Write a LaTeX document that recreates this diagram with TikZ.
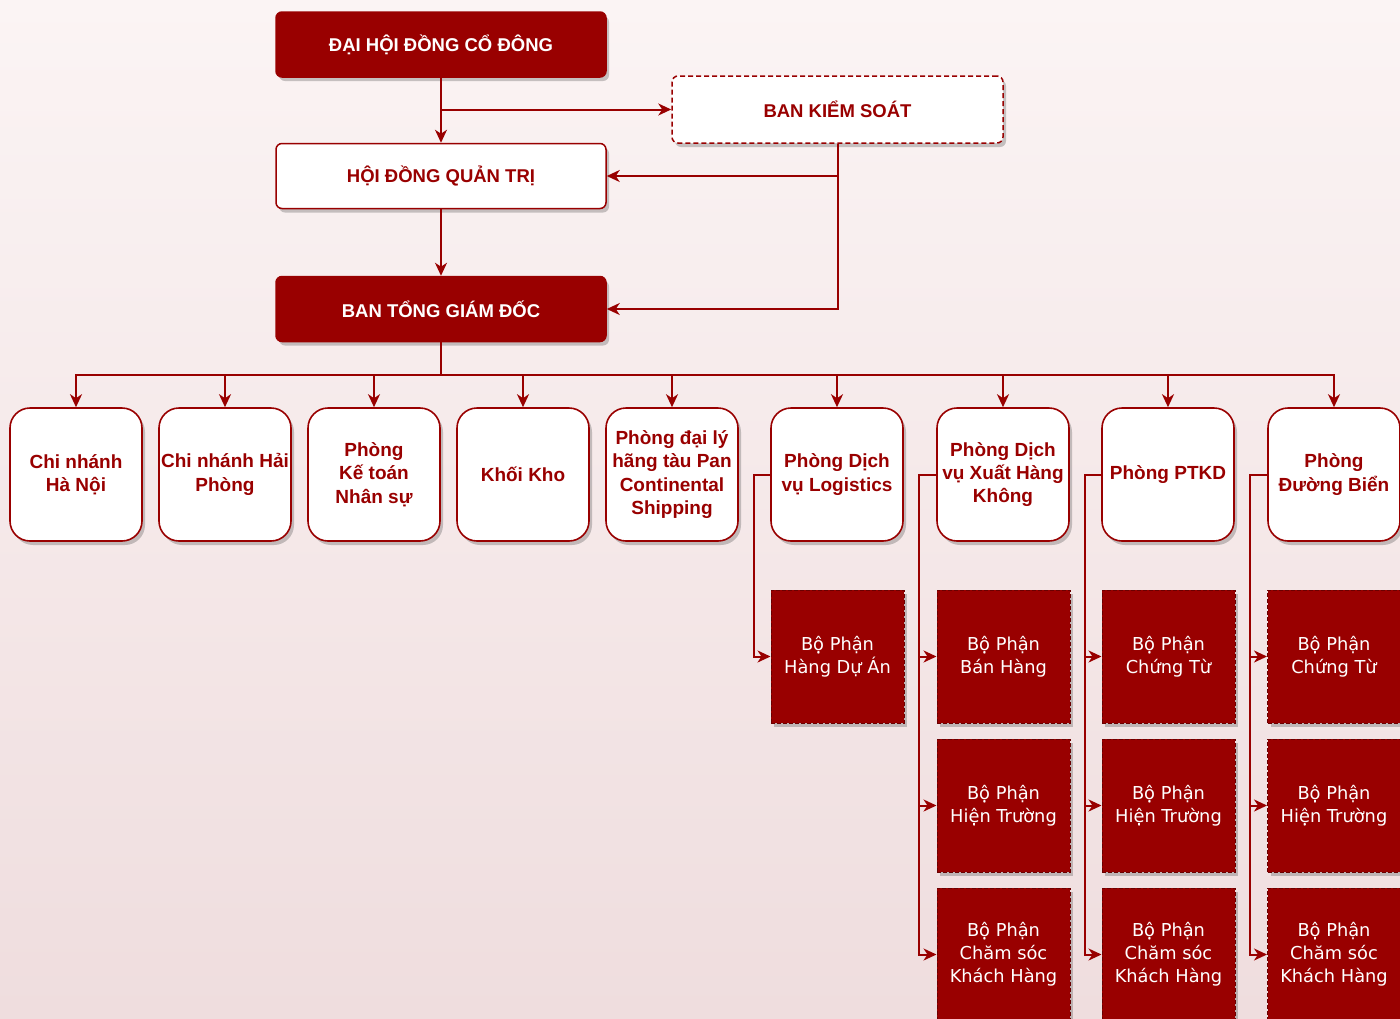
\documentclass[tikz,border=0pt]{standalone}
\usepackage{fontspec}
\setmainfont{Liberation Sans}
\newfontfamily\subfont{DejaVu Sans}
\usetikzlibrary{arrows.meta,shadows,calc}
\definecolor{dred}{HTML}{990000}
\definecolor{bgA}{HTML}{FBF4F4}
\definecolor{bgB}{HTML}{EFDDDE}
\definecolor{dashred}{HTML}{6A0000}
\begin{document}
\begin{tikzpicture}[x=1pt,y=-1pt,
  conn/.style={draw=dred,line width=2pt,-{Stealth[length=13pt,width=12pt,inset=4pt]}},
  shad/.style={drop shadow={shadow xshift=3pt,shadow yshift=-4pt,opacity=0.3,fill=black!70}},
  topbox/.style={rectangle,rounded corners=6pt,minimum width=330pt,minimum height=65pt,
    line width=1.5pt,font=\bfseries\fontsize{18.5}{22}\selectfont,shad},
  darktop/.style={topbox,fill=dred,draw=dred,text=white},
  lighttop/.style={topbox,fill=white,draw=dred,text=dred},
  dept/.style={rectangle,rounded corners=20pt,minimum width=132pt,minimum height=133pt,
    fill=white,draw=dred,line width=1.6pt,text=dred,align=center,inner sep=1pt,
    font=\bfseries\fontsize{19}{23.3}\selectfont,shad},
  subbox/.style={rectangle,minimum width=133pt,minimum height=133pt,fill=dred,draw=dashred,
    line width=1pt,dash pattern=on 4pt off 2pt,text=white,align=center,inner sep=1pt,
    font=\subfont\fontsize{17.8}{23}\selectfont,shad}
]
\useasboundingbox (0,0) rectangle (1400,1018);
\shade[top color=bgA,bottom color=bgB] (0,0) rectangle (1400,1018);

% top level
\node[darktop] (dhd) at (441,44.5) {ĐẠI HỘI ĐỒNG CỔ ĐÔNG};
\node[lighttop,dash pattern=on 5pt off 3pt,minimum width=331pt,minimum height=67pt] (bks) at (837.5,109.5) {BAN KIỂM SOÁT};
\node[lighttop] (hdqt) at (441,176) {HỘI ĐỒNG QUẢN TRỊ};
\node[darktop] (btgd) at (441,309) {BAN TỔNG GIÁM ĐỐC};

\draw[conn] (dhd.south) -- (hdqt.north);
\draw[conn] (dhd.south |- bks.west) -- (bks.west);
\draw[conn] (bks.south) |- (hdqt.east);
\draw[conn] (bks.south) |- (btgd.east);
\draw[conn] (hdqt.south) -- (btgd.north);

% departments
\node[dept] (d1) at (76,474.5) {Chi nhánh\\Hà Nội};
\node[dept] (d2) at (225,474.5) {Chi nhánh Hải\\Phòng};
\node[dept] (d3) at (374,474.5) {Phòng\\Kế toán\\Nhân sự};
\node[dept] (d4) at (523,474.5) {Khối Kho};
\node[dept] (d5) at (672,474.5) {Phòng đại lý\\hãng tàu Pan\\Continental\\Shipping};
\node[dept] (d6) at (837,474.5) {Phòng Dịch\\vụ Logistics};
\node[dept] (d7) at (1003,474.5) {Phòng Dịch\\vụ Xuất Hàng\\Không};
\node[dept] (d8) at (1168,474.5) {Phòng PTKD};
\node[dept] (d9) at (1334,474.5) {Phòng\\Đường Biển};

\foreach \d in {d1,d2,d3,d4,d5,d6,d7,d8,d9}
  \draw[conn] (btgd.south) -- ++(0,33) -| (\d.north);

% sub units
\node[subbox] (s61) at (837.5,656.5) {Bộ Phận\\Hàng Dự Án};

\node[subbox] (s71) at (1003.5,656.5) {Bộ Phận\\Bán Hàng};
\node[subbox] (s72) at (1003.5,805.5) {Bộ Phận\\Hiện Trường};
\node[subbox] (s73) at (1003.5,954.5) {Bộ Phận\\Chăm sóc\\Khách Hàng};

\node[subbox] (s81) at (1168.5,656.5) {Bộ Phận\\Chứng Từ};
\node[subbox] (s82) at (1168.5,805.5) {Bộ Phận\\Hiện Trường};
\node[subbox] (s83) at (1168.5,954.5) {Bộ Phận\\Chăm sóc\\Khách Hàng};

\node[subbox] (s91) at (1334,656.5) {Bộ Phận\\Chứng Từ};
\node[subbox] (s92) at (1334,805.5) {Bộ Phận\\Hiện Trường};
\node[subbox] (s93) at (1334,954.5) {Bộ Phận\\Chăm sóc\\Khách Hàng};

\draw[conn] (d6.west) -- ++(-16,0) |- (s61.west);
\foreach \s in {s71,s72,s73}
  \draw[conn] (d7.west) -- ++(-17,0) |- (\s.west);
\foreach \s in {s81,s82,s83}
  \draw[conn] (d8.west) -- ++(-16,0) |- (\s.west);
\foreach \s in {s91,s92,s93}
  \draw[conn] (d9.west) -- ++(-17,0) |- (\s.west);
\end{tikzpicture}
\end{document}
